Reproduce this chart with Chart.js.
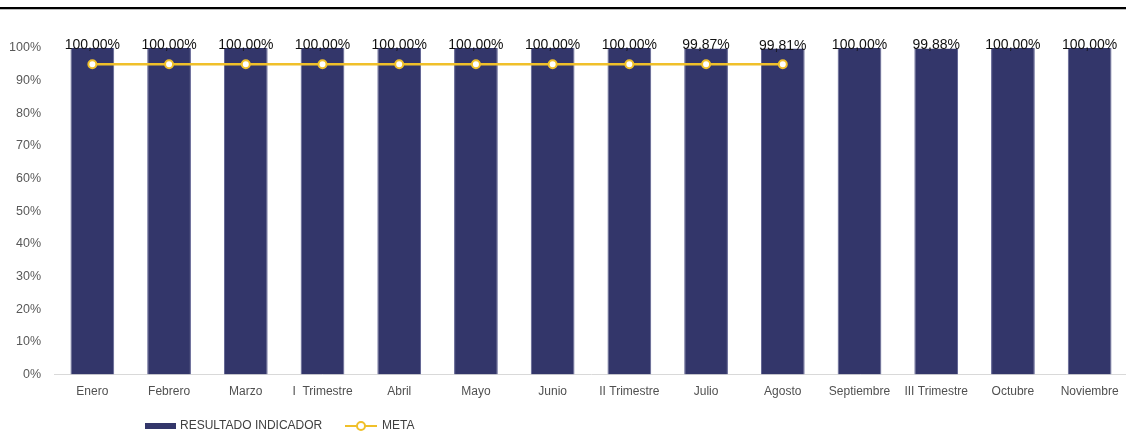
<!DOCTYPE html>
<html>
<head>
<meta charset="utf-8">
<script src="https://cdn.jsdelivr.net/npm/chart.js@4"></script>
<style>
    body { margin: 0; overflow: hidden; background: #fff; }
    #linea-top { position: absolute; top: 7px; left: 0; width: 1126px; height: 2px; background: #000; border-bottom: 1px solid #bbb; }
    #contenedor { position: absolute; top: 0; left: 0; width: 1134px; height: 432px; }
</style>
</head>
<body>
<div id="contenedor"><canvas id="grafico"></canvas></div>
<div id="linea-top"></div>
<script>
const meses = ['Enero', 'Febrero', 'Marzo', 'I  Trimestre', 'Abril', 'Mayo', 'Junio', 'II Trimestre',
    'Julio', 'Agosto', 'Septiembre', 'III Trimestre', 'Octubre', 'Noviembre'];
const resultado = [100, 100, 100, 100, 100, 100, 100, 100, 99.87, 99.81, 100, 99.88, 100, 100];
const meta = [95, 95, 95, 95, 95, 95, 95, 95, 95, 95, null, null, null, null];
const ticksY = [0, 10, 20, 30, 40, 50, 60, 70, 80, 90, 100];

const colorBarra = '#33366a';
const colorMeta = '#f0c02a';
const fuente = '"Liberation Sans", Arial, sans-serif';

function formatoPct(v) {
    return v.toFixed(2).replace('.', ',') + '%';
}

// etiquetas encima de las barras
const etiquetasBarras = {
    id: 'etiquetasBarras',
    afterDatasetsDraw(chart) {
        const ctx = chart.ctx;
        const metaBarras = chart.getDatasetMeta(1);
        ctx.save();
        ctx.font = '14px ' + fuente;
        ctx.fillStyle = '#111';
        ctx.textAlign = 'center';
        ctx.textBaseline = 'alphabetic';
        metaBarras.data.forEach(function (barra, i) {
            ctx.fillText(formatoPct(resultado[i]), barra.x, barra.y + 1);
        });
        ctx.restore();
    }
};

// leyenda abajo a la izquierda
const leyenda = {
    id: 'leyenda',
    afterDraw(chart) {
        const ctx = chart.ctx;
        const y = 426;
        let x = 145;
        ctx.save();
        ctx.font = '12px ' + fuente;
        ctx.textBaseline = 'middle';
        ctx.fillStyle = colorBarra;
        ctx.fillRect(x, y - 3, 31, 6);
        x += 35;
        ctx.fillStyle = '#404040';
        ctx.fillText(chart.data.datasets[1].label, x, y);
        x = 345;
        ctx.strokeStyle = colorMeta;
        ctx.lineWidth = 2;
        ctx.beginPath();
        ctx.moveTo(x, y);
        ctx.lineTo(x + 32, y);
        ctx.stroke();
        ctx.beginPath();
        ctx.arc(x + 16, y, 4, 0, Math.PI * 2);
        ctx.fillStyle = '#fff';
        ctx.fill();
        ctx.stroke();
        ctx.fillStyle = '#404040';
        ctx.fillText(chart.data.datasets[0].label, x + 37, y);
        ctx.restore();
    }
};

const ctx = document.getElementById('grafico').getContext('2d');
const grafico = new Chart(ctx, {
    type: 'bar',
    data: {
        labels: meses,
        datasets: [{
            type: 'line',
            label: 'META',
            data: meta,
            borderColor: colorMeta,
            borderWidth: 2.5,
            pointRadius: 4,
            pointBorderWidth: 2,
            pointBackgroundColor: '#fff',
            pointBorderColor: colorMeta,
            spanGaps: false,
            order: 0
        }, {
            label: 'RESULTADO INDICADOR',
            data: resultado,
            backgroundColor: colorBarra,
            borderColor: '#5d6090',
            borderWidth: { left: 1, right: 1 },
            categoryPercentage: 1,
            barPercentage: 0.57,
            order: 1
        }]
    },
    options: {
        responsive: true,
        maintainAspectRatio: false,
        animation: false,
        layout: {
            padding: { top: 48, left: 10, right: 0, bottom: 23 }
        },
        plugins: {
            legend: { display: false },
            tooltip: { enabled: false }
        },
        scales: {
            x: {
                grid: { display: false, drawTicks: false },
                border: { display: true, color: '#d9d9d9', width: 1 },
                ticks: {
                    color: '#505050',
                    padding: 10,
                    maxRotation: 0,
                    autoSkip: false,
                    font: { family: fuente, size: 12 }
                }
            },
            y: {
                min: 0,
                max: 100,
                afterBuildTicks: function (eje) {
                    eje.ticks = ticksY.map(v => ({ value: v }));
                },
                afterFit: function (eje) {
                    eje.width = 44;
                },
                grid: { display: false, drawTicks: false },
                border: { display: false },
                ticks: {
                    color: '#595959',
                    padding: 13,
                    callback: v => v + '%',
                    font: { family: fuente, size: 12.5 }
                }
            }
        }
    },
    plugins: [etiquetasBarras, leyenda]
});
</script>
</body>
</html>
